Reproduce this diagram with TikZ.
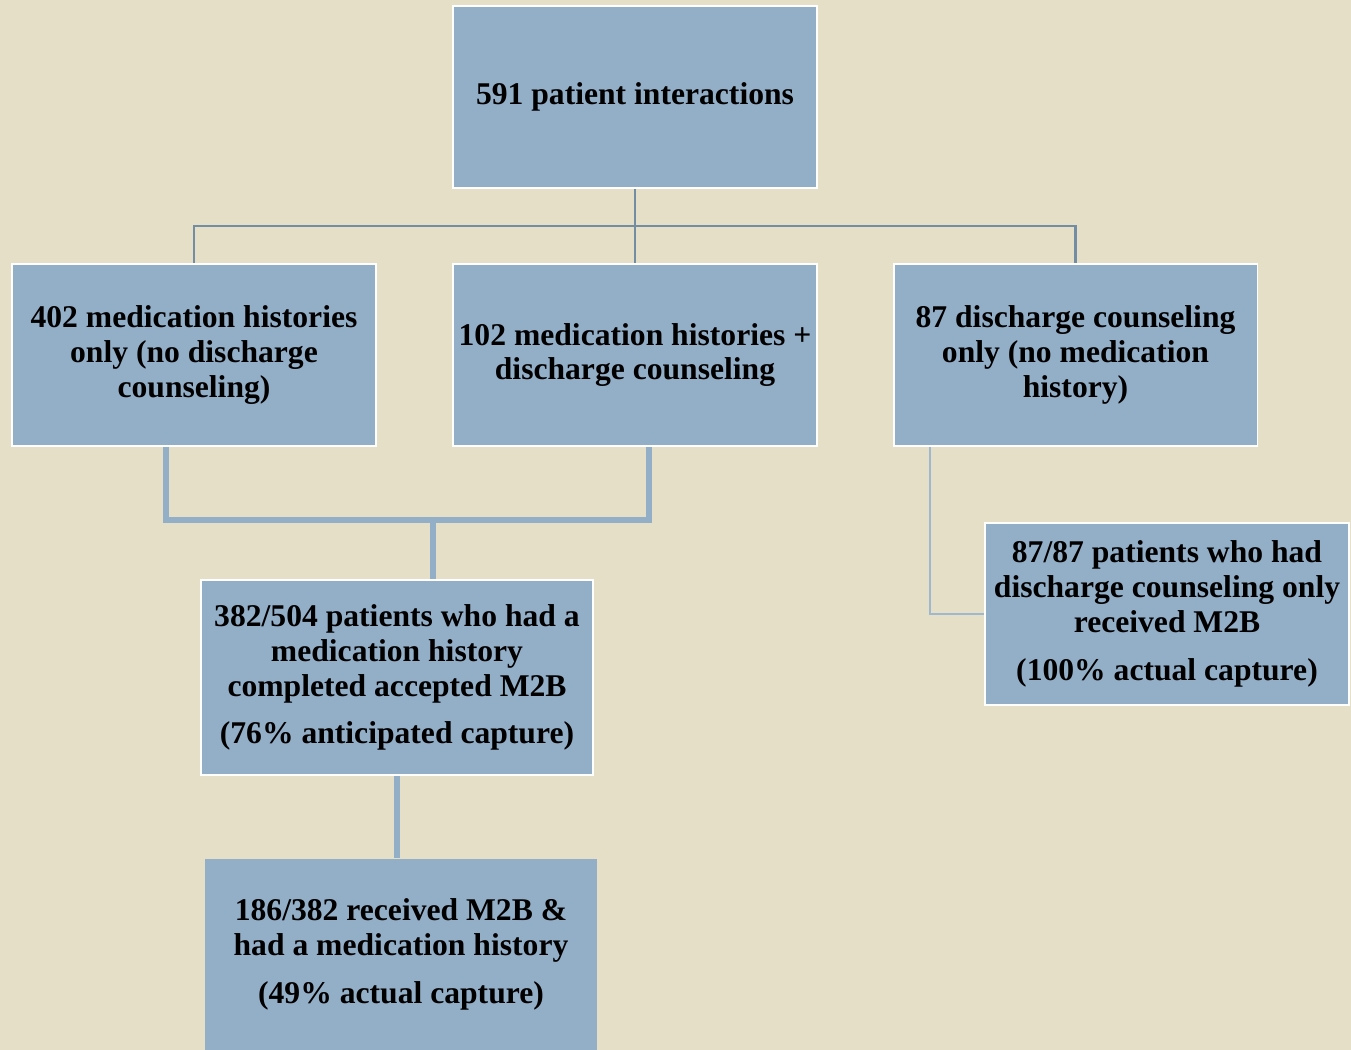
\documentclass[tikz,border=0pt]{standalone}
\usepackage{fontspec}
\setmainfont{Liberation Serif}
\usepackage{tikz}
\usetikzlibrary{positioning,calc}
\definecolor{paper}{RGB}{230,223,199}
\definecolor{boxblue}{RGB}{147,175,200}
\definecolor{treeline}{RGB}{115,141,163}
\definecolor{thinblue}{RGB}{160,184,205}
\newcommand{\gap}{\\[7.4pt]}

\begin{document}
\begin{tikzpicture}[
  x=0.02cm, y=-0.02cm,
  block/.style={draw=white, line width=1.1pt, fill=boxblue, inner sep=2pt, align=center,
    font=\fontsize{18}{19.8}\selectfont\bfseries, minimum width=7.28cm, minimum height=3.64cm},
  wide/.style={block, minimum width=7.84cm, minimum height=3.9cm},
  flat/.style={wide, draw=none, minimum height=3.82cm},
  tree/.style={draw=treeline, line width=1.5pt},
  merge/.style={draw=boxblue, line width=3.4pt},
  side/.style={draw=thinblue, line width=1.2pt},
]
\fill[paper] (0,0) rectangle (1351,1050);
\useasboundingbox (0,0) rectangle (1351,1050);

\coordinate (split) at (635,226);
\coordinate (join) at (433,520);

% Top level
\node[block] (total) at (635,97) {591 patient interactions};

% Second level
\node[block] (medonly) at (194,355) {402 medication histories\\only (no discharge\\counseling)};
\node[block] (both) at (635,355) {102 medication histories +\\discharge counseling};
\node[block] (dconly) at (1075.5,355) {87 discharge counseling\\only (no medication\\history)};

% Outcomes
\node[wide] (anticip) at (397,677.5) {382/504 patients who had a\\medication history\\completed accepted M2B\gap(76\% anticipated capture)};
\node[block] (dcm2b) at (1167,614) {87/87 patients who had\\discharge counseling only\\received M2B\gap(100\% actual capture)};
\node[flat] (actual) at (401,954.5) {186/382 received M2B \&\\had a medication history\gap(49\% actual capture)};

% Split of the interactions
\draw[tree] (total.south) -- (both.north);
\draw[tree] (medonly.north) |- (split) -| (dconly.north);

% Merge of the medication histories
\draw[merge] ($(medonly.south)+(-28,0)$) |- (join) -| ($(both.south)+(14,0)$);
\draw[merge] (join) -- (join |- anticip.north);
\draw[merge] (anticip.south) -- (anticip.south |- actual.north);

% Discharge counseling only
\draw[side] ($(dconly.south west)+(37,0)$) |- (dcm2b.west);
\end{tikzpicture}
\end{document}
